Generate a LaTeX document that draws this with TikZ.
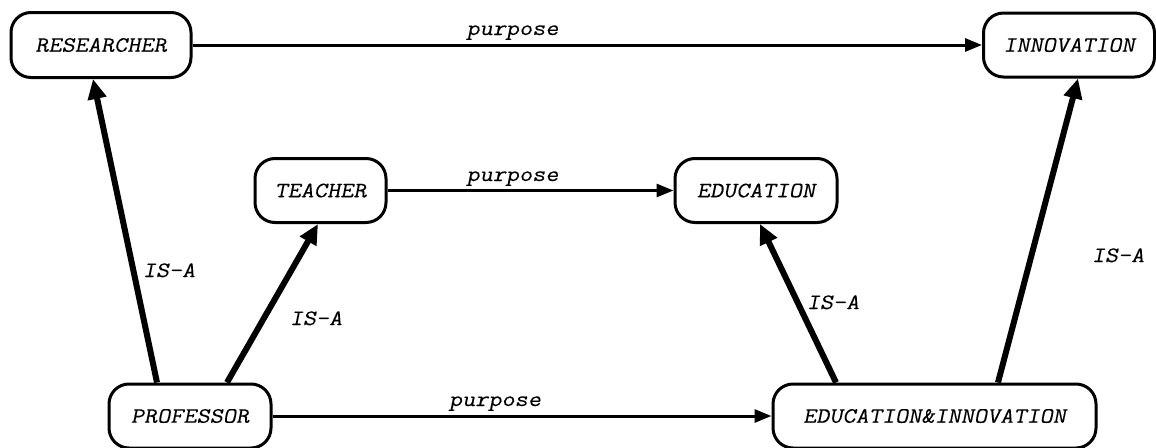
\documentclass[tikz,border=0pt]{standalone}
\usepackage{fontspec}
\newfontfamily\conceptfont{Latin Modern Mono}[FakeSlant=0.2,FakeStretch=1.16,FakeBold=0.15]
\usetikzlibrary{arrows.meta,calc}
\begin{document}
\begin{tikzpicture}[x=1pt,y=-1pt,
  txt/.style={font=\conceptfont\fontsize{22}{26}\selectfont},
  concept/.style={txt, draw, line width=3pt, rounded corners=20pt, fill=white,
    minimum height=64pt, inner sep=0pt},
  lbl/.style={txt, inner sep=0pt, anchor=base},
  purposeedge/.style={line width=3pt, -{Triangle[length=17pt,width=13pt]}},
  isaedge/.style={line width=6pt, -{Triangle[length=20pt,width=18pt]}}]
\useasboundingbox (0,0) rectangle (1156,447);
% concepts
\node[concept, minimum width=180pt, minimum height=65pt] (res) at (101,45) {RESEARCHER};
\node[concept, minimum width=171pt] (inn) at (1069,45) {INNOVATION};
\node[concept, minimum width=131pt] (tea) at (320.5,190.5) {TEACHER};
\node[concept, minimum width=162pt] (edu) at (756,190.5) {EDUCATION};
\node[concept, minimum width=162pt] (pro) at (190,416) {PROFESSOR};
\node[concept, minimum width=323pt] (ei) at (934.5,416) {EDUCATION\&INNOVATION};
% purpose relations
\draw[purposeedge] (res) -- (inn);
\draw[purposeedge] (tea) -- (edu);
\draw[purposeedge] (pro) -- (ei);
\node[lbl] (p1) at (512.5,35) {purpose};
\node[lbl] (p2) at (512.5,181) {purpose};
\node[lbl] (p3) at (495,406) {purpose};
% IS-A relations
\draw[isaedge] ($(pro.north)+(-33,0)$) -- ($(res.south)+(-8,0)$);
\draw[isaedge] ($(pro.north)+(37,0)$) -- ($(tea.south)+(-2.5,0)$);
\draw[isaedge] ($(ei.north)+(-98.5,0)$) -- ($(edu.south)+(4,0)$);
\draw[isaedge] ($(ei.north)+(63.5,0)$) -- ($(inn.south)+(9,0)$);
\node[lbl] (i1) at (169,277) {IS-A};
\node[lbl] (i2) at (316,325) {IS-A};
\node[lbl] (i3) at (833,309) {IS-A};
\node[lbl] (i4) at (1118,262) {IS-A};
\end{tikzpicture}
\end{document}
